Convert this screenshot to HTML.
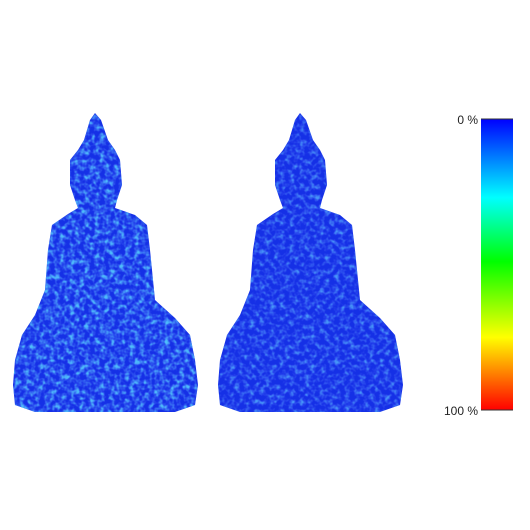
<!DOCTYPE html>
<html><head><meta charset="utf-8"><style>
html,body{margin:0;padding:0;background:#fff;width:530px;height:530px;overflow:hidden}
svg{display:block}
</style></head><body>
<svg width="530" height="530" viewBox="0 0 530 530">
<defs>
<filter id="tex" x="0" y="0" width="100%" height="100%">
<feTurbulence type="fractalNoise" baseFrequency="0.2" numOctaves="2" seed="3" result="n"/>
<feColorMatrix in="n" type="matrix" values="0 0 0 0 0.1  1.3 0 0 0 -0.35  0 0 0 0 1  2.5 0 0 0 -0.9" result="c"/>
<feComposite in="c" in2="SourceGraphic" operator="in"/>
</filter>
<filter id="tex2" x="0" y="0" width="100%" height="100%">
<feTurbulence type="fractalNoise" baseFrequency="0.2" numOctaves="2" seed="7" result="n"/>
<feColorMatrix in="n" type="matrix" values="0 0 0 0 0.1  1.0 0 0 0 -0.3  0 0 0 0 1  2.5 0 0 0 -1.0" result="c"/>
<feComposite in="c" in2="SourceGraphic" operator="in"/>
</filter>
<path id="buddha" d="M95,113 L101,120 L108,140 L115,150 L120,160 L122,185 L117,200 L115,208 L135,215 L147,225 L150,250 L155,300 L175,318 L190,335 L195,360 L198,385 L195,405 L175,412 L35,412 L15,405 L13,385 L15,360 L22,335 L35,315 L45,290 L48,250 L52,225 L68,214 L78,208 L75,200 L70,185 L70,160 L78,150 L84,140 L90,120 Z"/>
<linearGradient id="cbar" x1="0" y1="0" x2="0" y2="1">
<stop offset="0" stop-color="#0000ff"/>
<stop offset="0.27" stop-color="#00ffff"/>
<stop offset="0.49" stop-color="#00ff00"/>
<stop offset="0.75" stop-color="#ffff00"/>
<stop offset="1" stop-color="#ff0000"/>
</linearGradient>
</defs>
<g>
<use href="#buddha" fill="#1530e6"/>
<use href="#buddha" fill="#fff" filter="url(#tex)" opacity="0.8"/>
</g>
<g transform="translate(205,0)">
<use href="#buddha" fill="#1530e6"/>
<use href="#buddha" fill="#fff" filter="url(#tex2)" opacity="0.7"/>
</g>
<g>
<rect x="481" y="119" width="32" height="291" fill="url(#cbar)"/>
<line x1="481" y1="119" x2="513" y2="119" stroke="#333" stroke-width="1"/>
<line x1="481" y1="410" x2="513" y2="410" stroke="#333" stroke-width="1"/>
<text x="478" y="124" text-anchor="end" font-family="Liberation Sans, sans-serif" font-size="12" fill="#222">0 %</text>
<text x="478" y="415" text-anchor="end" font-family="Liberation Sans, sans-serif" font-size="12" fill="#222">100 %</text>
</g>
</svg>
</body></html>
